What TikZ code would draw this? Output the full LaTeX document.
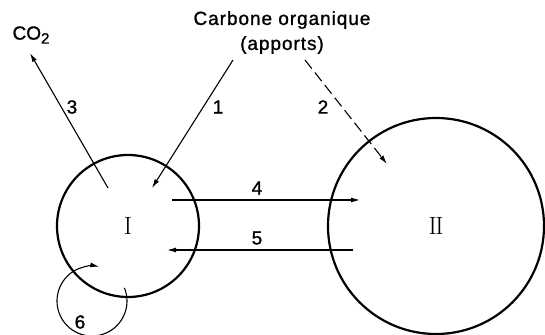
\documentclass[tikz,border=0pt]{standalone}
\usepackage{fontspec}
\setsansfont[FakeBold=1.2]{Liberation Sans}
\usetikzlibrary{arrows.meta,positioning,calc}
\tikzset{pool/.style={draw,circle,line width=2.2pt,inner sep=0pt,font=\rmfamily\fontsize{25}{25}\selectfont},
flux/.style={draw,line width=1.1pt,-{Latex[length=9pt,width=5pt]}},
num/.style={font=\sffamily\fontsize{19}{19}\selectfont,inner sep=1pt},
title/.style={font=\sffamily\fontsize{19}{19}\selectfont\addfontfeature{LetterSpace=5},inner sep=1pt},
every picture/.style={x=1pt,y=1pt}}

\begin{document}
\begin{tikzpicture}
\useasboundingbox (0,0) rectangle (545,334);
% the two pools
\node[pool,minimum size=142] (I) at (128,108) {I};
\node[pool,minimum size=216] (II) at (436,108) {I\kern-1.5ptI};
% source and sink
\node[title] (src) at (282,314) {Carbone organique};
\node[title] (src2) at (282,289) {(apports)};
\node[num] (co2) at (31,299) {CO\raisebox{-4pt}{\fontsize{15}{15}\selectfont 2}};
% end points of the fluxes
\coordinate (s1) at (233,274); \coordinate (e1) at (152,146);
\coordinate (s2) at (305,274); \coordinate (e2) at (387,170);
\coordinate (s3) at (108,146); \coordinate (e3) at (30,281);
\coordinate (s4) at (172,134); \coordinate (e4) at (360,134);
\coordinate (s5) at (353,84);  \coordinate (e5) at (167,84);
\coordinate (s6) at ($(92,33)+(22:35)$);
\draw[flux] (s1)--(e1);
\draw[flux,dash pattern=on 11pt off 5pt] (s2)--(e2);
\draw[flux] (s3)--(e3);
\draw[flux] (s4)--(e4);
\draw[flux] (s5)--(e5);
\draw[flux] (s6) arc[start angle=22,end angle=-282,radius=35];
\foreach \n/\x/\y in {1/218/227,2/323/227,3/72/227,4/257/146,5/257/96,6/80/12}{\node[num] (n\n) at (\x,\y) {\n};}
\end{tikzpicture}
\end{document}
